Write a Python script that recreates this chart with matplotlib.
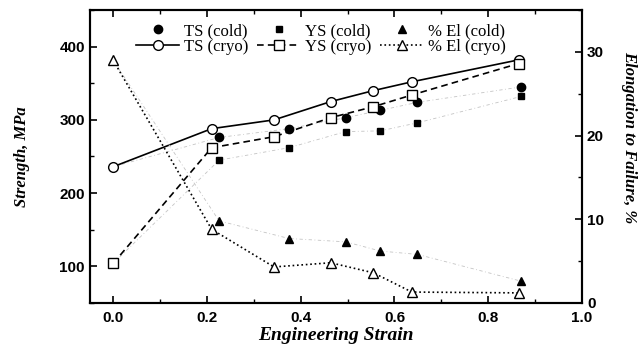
import numpy as np
import matplotlib.pyplot as plt
from matplotlib.ticker import MultipleLocator

# values
strain_cold = [0.226, 0.375, 0.496, 0.570, 0.649, 0.870]
ts_cold = [276, 288, 303, 313, 324, 345]
ys_cold = [245, 262, 284, 285, 296, 332]
el_cold = [9.8, 7.7, 7.3, 6.2, 5.8, 2.6]

strain_cryo = [0.0, 0.210, 0.343, 0.464, 0.555, 0.637, 0.865]
ts_cryo = [236, 288, 300, 325, 340, 352, 382]
ys_cryo = [104, 262, 277, 303, 318, 334, 377]
el_cryo = [29.0, 8.8, 4.3, 4.8, 3.6, 1.3, 1.2]

serif = "Liberation Serif"
sans = "Liberation Sans"

fig = plt.figure(figsize=(6.41, 3.47), dpi=100)
ax = fig.add_axes([0.140, 0.127, 0.768, 0.844])
ax2 = ax.twinx()

# faint lines through cold data (start from as-received point)
faint = dict(color="#c4c4c4", lw=0.6, ls=(0, (4, 3, 1, 3)), zorder=1)
ax.plot([strain_cryo[0]] + strain_cold, [ts_cryo[0]] + ts_cold, **faint)
ax.plot([strain_cryo[0]] + strain_cold, [ys_cryo[0]] + ys_cold, **faint)
ax2.plot([strain_cryo[0]] + strain_cold, [el_cryo[0]] + el_cold, **faint)

h_tsc, = ax.plot(strain_cold, ts_cold, "o", color="black", ms=6, ls="none")
h_ysc, = ax.plot(strain_cold, ys_cold, "s", color="black", ms=5, ls="none")
h_tsy, = ax.plot(strain_cryo, ts_cryo, "-o", color="black", lw=1.2, ms=7,
                 mfc="white", mec="black", mew=1.0)
h_ysy, = ax.plot(strain_cryo, ys_cryo, "--s", color="black", lw=1.2, ms=6.5,
                 mfc="white", mec="black", mew=1.0, dashes=(4, 2.5))
h_elc, = ax2.plot(strain_cold, el_cold, "^", color="black", ms=6, ls="none")
h_ely, = ax2.plot(strain_cryo, el_cryo, ":^", color="black", lw=1.2, ms=7,
                  mfc="white", mec="black", mew=1.0)

ax.set_xlim(-0.05, 1.0)
ax.set_ylim(50, 450)
ax2.set_ylim(0, 35)

ax.xaxis.set_major_locator(MultipleLocator(0.2))
ax.xaxis.set_minor_locator(MultipleLocator(0.1))
ax.yaxis.set_major_locator(MultipleLocator(100))
ax.yaxis.set_minor_locator(MultipleLocator(50))
ax2.yaxis.set_major_locator(MultipleLocator(10))
ax2.yaxis.set_minor_locator(MultipleLocator(5))

ax.set_xticks([0.0, 0.2, 0.4, 0.6, 0.8, 1.0])
ax.set_xticklabels(["0.0", "0.2", "0.4", "0.6", "0.8", "1.0"])
ax.set_yticks([100, 200, 300, 400])
ax2.set_yticks([0, 10, 20, 30])

ax.tick_params(axis="x", which="both", direction="in", top=True, pad=6)
ax.tick_params(axis="y", which="both", direction="in", right=False)
ax.tick_params(which="major", length=5, width=1.2)
ax.tick_params(which="minor", length=3, width=1.0)
ax2.tick_params(which="both", direction="in")
ax2.tick_params(which="major", length=5, width=1.2)
ax2.tick_params(which="minor", length=3, width=1.0)

for a in (ax, ax2):
    for s in a.spines.values():
        s.set_linewidth(1.5)
    for lab in a.get_xticklabels() + a.get_yticklabels():
        lab.set_fontfamily(sans)
        lab.set_fontweight("bold")
        lab.set_fontsize(11)

ax.set_xlabel("Engineering Strain", fontfamily=serif, fontstyle="italic",
              fontweight="bold", fontsize=14, labelpad=1)
fig.text(22 / 641, 1 - 157 / 347, "Strength, MPa", fontfamily=serif,
         fontstyle="italic", fontweight="bold", fontsize=12, rotation=90,
         ha="center", va="center")
fig.text(629 / 641, 1 - 137 / 347, "Elongation to Failure, %", fontfamily=serif,
         fontstyle="italic", fontweight="bold", fontsize=12, rotation=-90,
         ha="center", va="center")

handles = [h_tsc, h_tsy, h_ysc, h_ysy, h_elc, h_ely]
labels = ["TS (cold)", "TS (cryo)", "YS (cold)", "YS (cryo)",
          "% El (cold)", "% El (cryo)"]
ax2.legend(handles, labels, ncol=3, loc="upper center",
           bbox_to_anchor=(0.47, 0.99), frameon=False,
           prop={"family": serif, "size": 12}, handlelength=2.6,
           handletextpad=0.3, columnspacing=0.5, labelspacing=0.0,
           borderaxespad=0.2)

fig.savefig("out.png", dpi=100)
